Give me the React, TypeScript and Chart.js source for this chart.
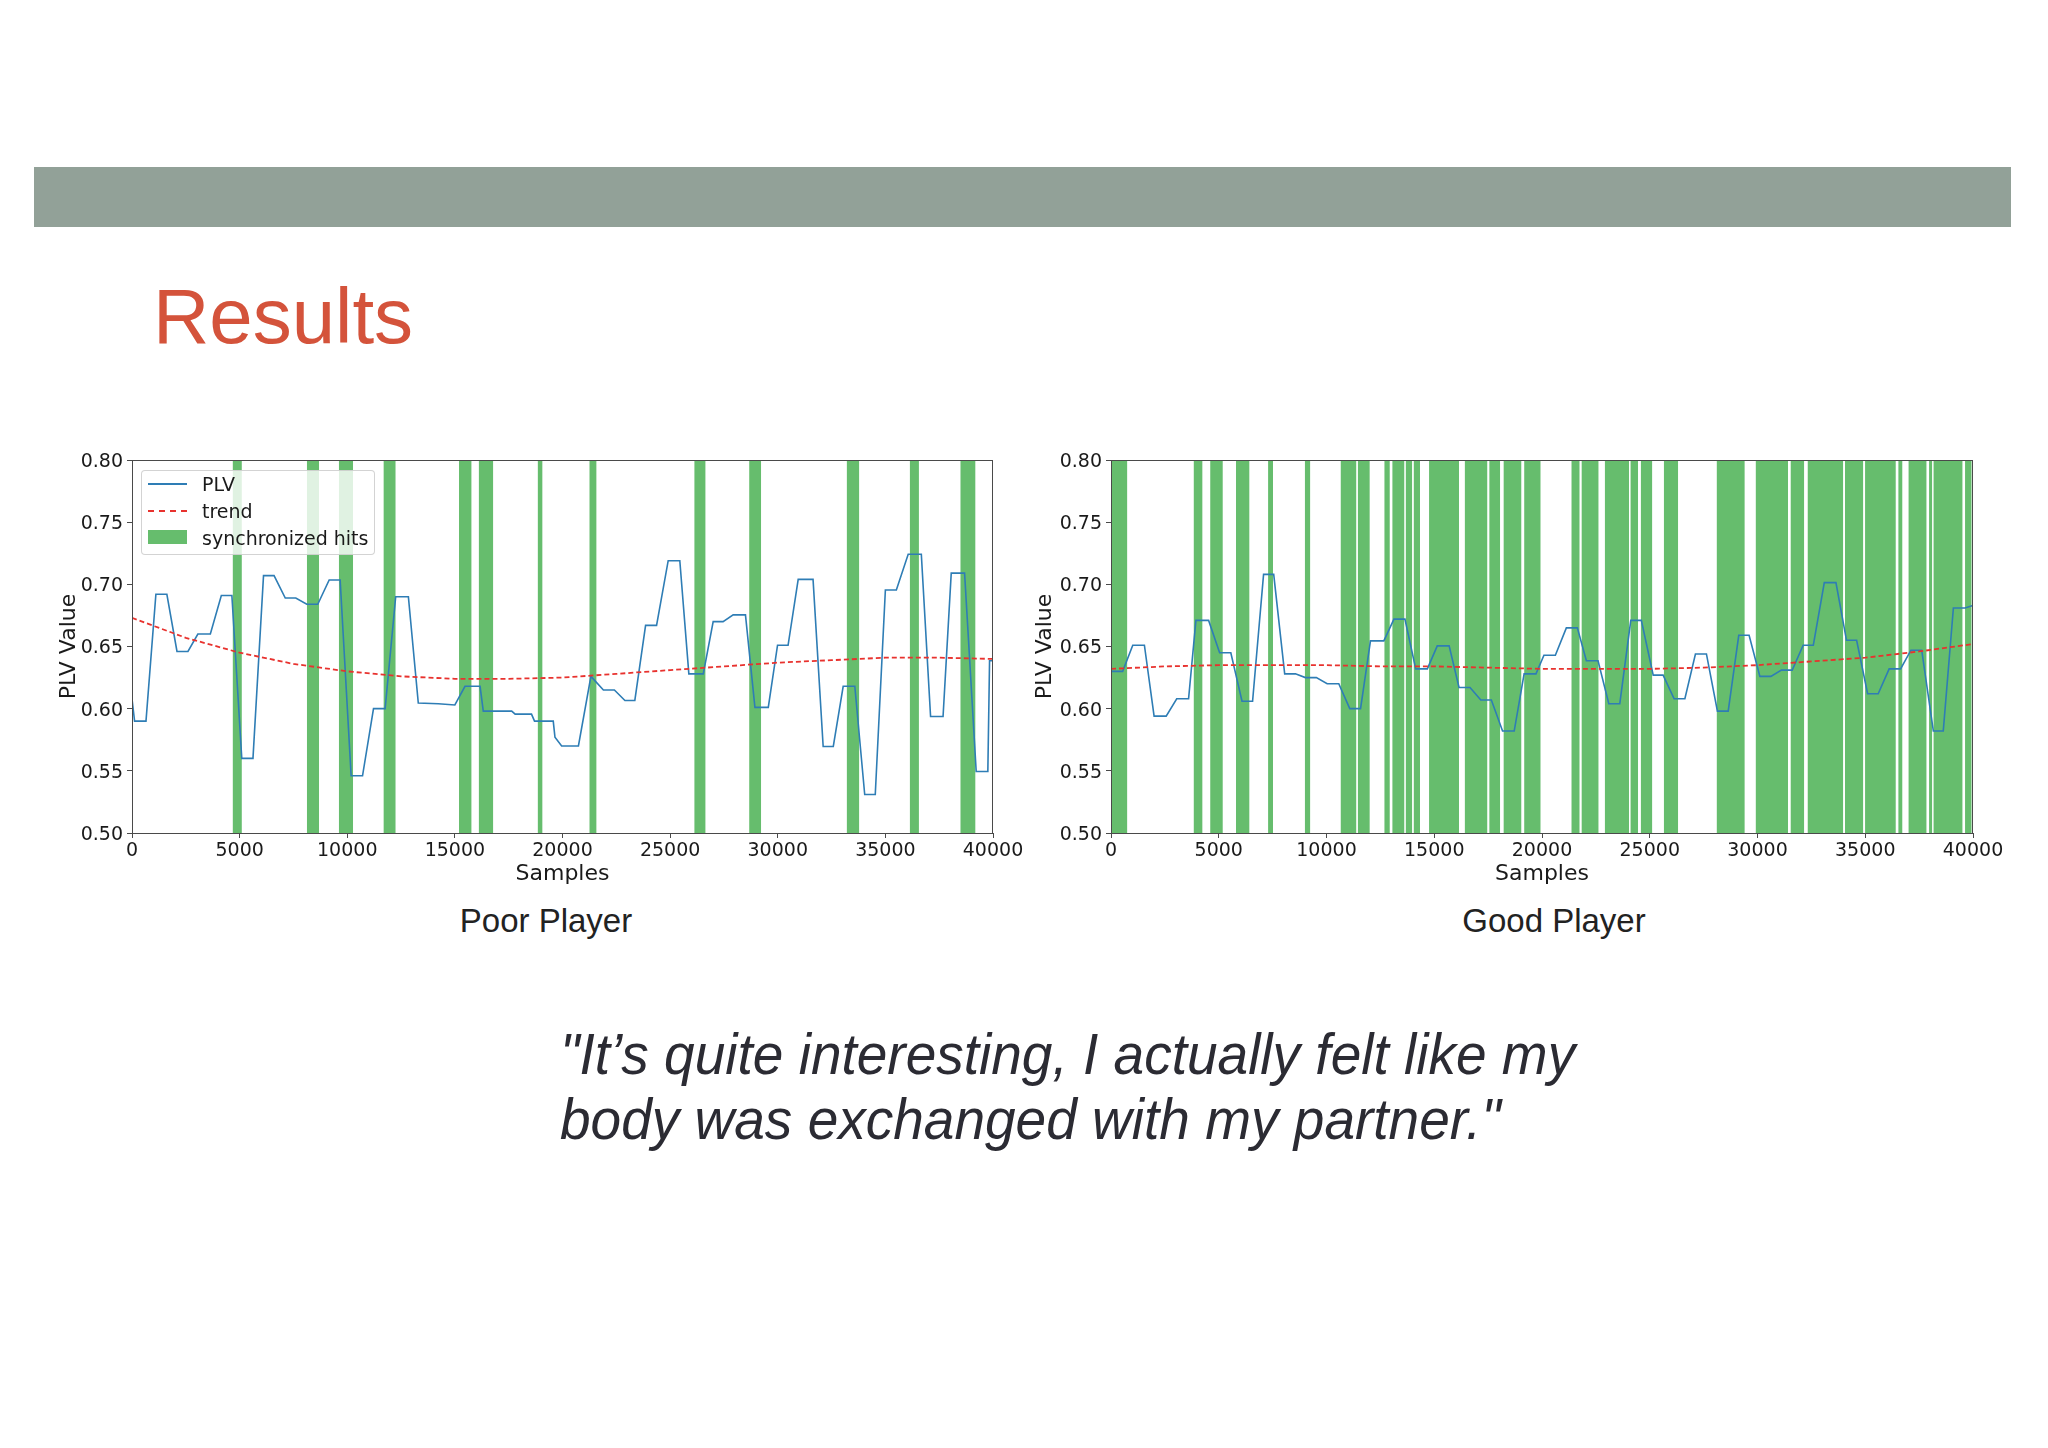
import { useEffect, useRef } from 'react';
import { Chart, ChartConfiguration, Plugin, registerables } from 'chart.js';

Chart.register(...registerables);

// axis ticks
const sampleTicks = [0, 5000, 10000, 15000, 20000, 25000, 30000, 35000, 40000];
const plvTicks = [0.5, 0.55, 0.6, 0.65, 0.7, 0.75, 0.8];

// Poor player
const poorSamples = [
  0, 120, 650, 1110, 1620, 2090, 2600, 3060, 3640, 4150, 4640, 5100, 5620, 6110, 6600, 7120, 7610,
  8120, 8630, 9160, 9670, 10180, 10710, 11220, 11760, 12250, 12840, 13300, 14230, 15000, 15470,
  16170, 16320, 17640, 17800, 18560, 18700, 19570, 19650, 19960, 20740, 21320, 21900, 22410, 22900,
  23360, 23860, 24370, 24910, 25450, 25870, 26540, 27000, 27460, 27930, 28500, 28940, 29560, 29990,
  30480, 30950, 31640, 32110, 32580, 33040, 33580, 34040, 34530, 35000, 35510, 36060, 36670, 37100,
  37680, 38060, 38680, 39220, 39760, 39840, 40000,
];
const poorPlv = [
  0.608, 0.59, 0.59, 0.692, 0.692, 0.646, 0.646, 0.66, 0.66, 0.691, 0.691, 0.56, 0.56, 0.707, 0.707,
  0.689, 0.689, 0.684, 0.684, 0.7035, 0.7035, 0.546, 0.546, 0.6, 0.6, 0.69, 0.69, 0.6045, 0.604,
  0.603, 0.618, 0.618, 0.598, 0.598, 0.5956, 0.5956, 0.59, 0.59, 0.577, 0.57, 0.57, 0.626, 0.615,
  0.615, 0.6066, 0.6066, 0.667, 0.667, 0.719, 0.719, 0.628, 0.628, 0.67, 0.67, 0.6754, 0.6754,
  0.601, 0.601, 0.651, 0.651, 0.704, 0.704, 0.5696, 0.5696, 0.618, 0.618, 0.531, 0.531, 0.6955,
  0.6955, 0.7242, 0.7242, 0.5937, 0.5937, 0.709, 0.709, 0.5495, 0.5495, 0.6385, 0.6385,
];
const trendSamples = [
  0, 2500, 5000, 7500, 10000, 12500, 15000, 17500, 20000, 22500, 25000, 27500, 30000, 32500, 35000,
  37500, 40000,
];
const poorTrend = [
  0.673, 0.657, 0.645, 0.636, 0.63, 0.626, 0.624, 0.624, 0.625, 0.628, 0.631, 0.634, 0.637, 0.639,
  0.641, 0.641, 0.64,
];
const poorHits = [
  [4672, 5105], [8122, 8694], [9607, 10272], [11680, 12252], [15192, 15779], [16105, 16785],
  [18843, 19075], [21245, 21585], [26120, 26650], [28670, 29230], [33200, 33790], [36130, 36560],
  [38480, 39190],
];

// Good player
const goodSamples = [
  0, 540, 1010, 1550, 2000, 2560, 3050, 3600, 3940, 4530, 5040, 5560, 6080, 6570, 7080, 7550, 8060,
  8560, 9020, 9530, 10030, 10570, 11080, 11580, 12040, 12660, 13130, 13640, 14140, 14680, 15140,
  15690, 16150, 16660, 17160, 17650, 18170, 18710, 19170, 19720, 20090, 20620, 21130, 21640, 22060,
  22600, 23100, 23610, 24120, 24610, 25160, 25620, 26130, 26630, 27120, 27630, 28140, 28640, 29130,
  29610, 30110, 30620, 31110, 31610, 32120, 32590, 33100, 33640, 34130, 34600, 35110, 35600, 36110,
  36640, 37120, 37620, 38160, 38620, 39090, 39630, 40000,
];
const goodPlv = [
  0.63, 0.63, 0.651, 0.651, 0.594, 0.594, 0.608, 0.608, 0.671, 0.671, 0.645, 0.645, 0.606, 0.606,
  0.708, 0.708, 0.628, 0.628, 0.625, 0.625, 0.62, 0.62, 0.6, 0.6, 0.6545, 0.6545, 0.672, 0.672,
  0.632, 0.632, 0.6505, 0.6505, 0.617, 0.617, 0.607, 0.607, 0.582, 0.582, 0.628, 0.628, 0.643,
  0.643, 0.665, 0.665, 0.6385, 0.6385, 0.604, 0.604, 0.671, 0.671, 0.627, 0.627, 0.608, 0.608,
  0.644, 0.644, 0.598, 0.598, 0.659, 0.659, 0.626, 0.626, 0.631, 0.631, 0.651, 0.651, 0.7014,
  0.7014, 0.655, 0.655, 0.612, 0.612, 0.632, 0.632, 0.647, 0.647, 0.582, 0.582, 0.681, 0.681, 0.683,
];
const goodTrend = [
  0.632, 0.634, 0.635, 0.635, 0.635, 0.634, 0.634, 0.633, 0.632, 0.632, 0.632, 0.633, 0.635, 0.638,
  0.641, 0.646, 0.652,
];
const goodHits = [
  [0, 760], [3830, 4250], [4600, 5190], [5800, 6430], [7290, 7520], [8990, 9250], [10650, 11390],
  [11450, 12010], [12680, 12940], [13050, 13620], [13670, 13980], [14040, 14340], [14760, 16150],
  [16410, 17470], [17550, 18060], [18210, 19050], [19170, 19940], [21360, 21750], [21830, 22630],
  [22910, 24040], [24100, 24460], [24580, 25120], [25650, 26320], [28100, 29410], [29910, 31420],
  [31530, 32170], [32320, 33980], [34060, 34910], [34990, 36420], [36530, 36730], [37000, 37850],
  [37960, 38110], [38160, 39520], [39630, 39940],
];

const BLUE = '#2e7db5';
const RED = '#e8322e';
const GREEN = 'rgb(102,189,109)';
const AXIS = '#4a4a4a';
const TEXT = '#1a1a1a';
const MPL_FONT = 'DejaVu Sans';

const framePlugin: Plugin = {
  id: 'frame',
  afterDatasetsDraw(chart) {
    const { ctx, chartArea: a } = chart;
    ctx.save();
    ctx.strokeStyle = AXIS;
    ctx.lineWidth = 1;
    ctx.strokeRect(a.left + 0.5, a.top + 0.5, a.right - a.left - 1, a.bottom - a.top);
    ctx.restore();
  },
};

type PanelProps = {
  samples: number[];
  plv: number[];
  trend: number[];
  hits: number[][];
  left: number;
  width: number;
  yTitlePad: number;
};

const Panel = ({ samples, plv, trend, hits, left, width, yTitlePad }: PanelProps) => {
  const canvasRef = useRef<HTMLCanvasElement>(null);

  useEffect(() => {
    const tickFont = { family: MPL_FONT, size: 19 };
    const titleFont = { family: MPL_FONT, size: 22 };
    const config = {
      type: 'line',
      data: {
        datasets: [
          {
            label: 'trend',
            data: trendSamples.map((x, i) => ({ x, y: trend[i] })),
            borderColor: RED,
            borderDash: [5, 3],
            borderWidth: 1.8,
            pointRadius: 0,
            fill: false,
            order: 0,
          },
          {
            label: 'PLV',
            data: samples.map((x, i) => ({ x, y: plv[i] })),
            borderColor: BLUE,
            borderWidth: 1.6,
            pointRadius: 0,
            fill: false,
            order: 1,
          },
          ...hits.map(([a, b]) => ({
            label: 'synchronized hits',
            data: [
              { x: a, y: 0.8 },
              { x: b, y: 0.8 },
            ],
            borderColor: 'transparent',
            borderWidth: 0,
            backgroundColor: GREEN,
            pointRadius: 0,
            fill: 'start',
            order: 2,
          })),
        ],
      },
      options: {
        responsive: false,
        animation: false,
        events: [],
        layout: { padding: { top: 20, right: 37, bottom: 0, left: 0 } },
        plugins: { legend: { display: false }, tooltip: { enabled: false } },
        scales: {
          x: {
            type: 'linear',
            min: 0,
            max: 40000,
            afterBuildTicks: (s: any) => {
              s.ticks = sampleTicks.map((value) => ({ value }));
            },
            afterFit: (s: any) => {
              s.height = 60;
            },
            border: { display: false },
            grid: { display: true, drawOnChartArea: false, drawTicks: true, tickLength: 5, color: AXIS },
            ticks: {
              callback: (v: any) => String(v),
              font: tickFont,
              color: TEXT,
              padding: 2,
              maxRotation: 0,
              autoSkip: false,
            },
            title: {
              display: true,
              text: 'Samples',
              font: titleFont,
              color: TEXT,
              padding: { top: 0, bottom: 6 },
            },
          },
          y: {
            type: 'linear',
            min: 0.5,
            max: 0.8,
            afterBuildTicks: (s: any) => {
              s.ticks = plvTicks.map((value) => ({ value }));
            },
            afterFit: (s: any) => {
              s.width = 92;
            },
            border: { display: false },
            grid: { display: true, drawOnChartArea: false, drawTicks: true, tickLength: 5, color: AXIS },
            ticks: {
              callback: (v: any) => Number(v).toFixed(2),
              font: tickFont,
              color: TEXT,
              padding: 4,
              labelOffset: 2,
            },
            title: {
              display: true,
              text: 'PLV Value',
              font: titleFont,
              color: TEXT,
              padding: { top: yTitlePad, bottom: 0 },
            },
          },
        },
      },
      plugins: [framePlugin],
    } as unknown as ChartConfiguration;

    const chart = new Chart(canvasRef.current as HTMLCanvasElement, config);
    return () => {
      chart.destroy();
    };
  }, [samples, plv, trend, hits, yTitlePad]);

  return (
    <canvas
      ref={canvasRef}
      width={width}
      height={453}
      style={{ position: 'absolute', left, top: 440, width, height: 453 }}
    />
  );
};

const legendRow = (top: number): React.CSSProperties => ({
  position: 'absolute',
  left: 202,
  top: top - 12,
  height: 24,
  lineHeight: '24px',
  fontFamily: MPL_FONT,
  fontSize: 19,
  color: TEXT,
  whiteSpace: 'nowrap',
});

const App = () => {
  return (
    <div
      style={{
        position: 'absolute',
        left: 0,
        top: 0,
        width: 2048,
        height: 1448,
        background: '#fff',
        overflow: 'hidden',
      }}
    >
      <div style={{ position: 'absolute', left: 34, top: 167, width: 1977, height: 60, background: '#92a198' }} />
      <div
        style={{
          position: 'absolute',
          left: 153,
          top: 277,
          fontFamily: '"Liberation Sans", Arial, sans-serif',
          fontSize: 78,
          lineHeight: 1,
          color: '#d4533b',
        }}
      >
        Results
      </div>

      <Panel samples={poorSamples} plv={poorPlv} trend={poorTrend} hits={poorHits} left={40} width={990} yTitlePad={16} />
      <Panel samples={goodSamples} plv={goodPlv} trend={goodTrend} hits={goodHits} left={1019} width={991} yTitlePad={13} />

      {/* legend of the left panel */}
      <div
        style={{
          position: 'absolute',
          left: 141,
          top: 470,
          width: 232,
          height: 83,
          background: 'rgba(255,255,255,0.8)',
          border: '1px solid rgba(200,200,200,0.8)',
          borderRadius: 4,
        }}
      />
      <div style={{ position: 'absolute', left: 148, top: 483, width: 39, height: 2, background: BLUE }} />
      <div style={{ position: 'absolute', left: 148, top: 510, width: 39, height: 0, borderTop: `2px dashed ${RED}` }} />
      <div style={{ position: 'absolute', left: 148, top: 530, width: 39, height: 14, background: GREEN }} />
      <div style={legendRow(484)}>PLV</div>
      <div style={legendRow(511)}>trend</div>
      <div style={legendRow(538)}>synchronized hits</div>

      <div
        style={{
          position: 'absolute',
          left: 446,
          width: 200,
          top: 904,
          textAlign: 'center',
          fontFamily: '"Liberation Sans", Arial, sans-serif',
          fontSize: 33,
          lineHeight: 1,
          color: '#222',
        }}
      >
        Poor Player
      </div>
      <div
        style={{
          position: 'absolute',
          left: 1454,
          width: 200,
          top: 904,
          textAlign: 'center',
          fontFamily: '"Liberation Sans", Arial, sans-serif',
          fontSize: 33,
          lineHeight: 1,
          color: '#222',
        }}
      >
        Good Player
      </div>

      <div
        style={{
          position: 'absolute',
          left: 560,
          top: 1022,
          fontFamily: '"Liberation Sans", Arial, sans-serif',
          fontStyle: 'italic',
          fontSize: 57,
          lineHeight: '65px',
          color: '#2b2b33',
          whiteSpace: 'nowrap',
          transform: 'scaleX(0.965)',
          transformOrigin: 'left top',
        }}
      >
        "It’s quite interesting, I actually felt like my
        <br />
        body was exchanged with my partner."
      </div>
    </div>
  );
};

export default App;
